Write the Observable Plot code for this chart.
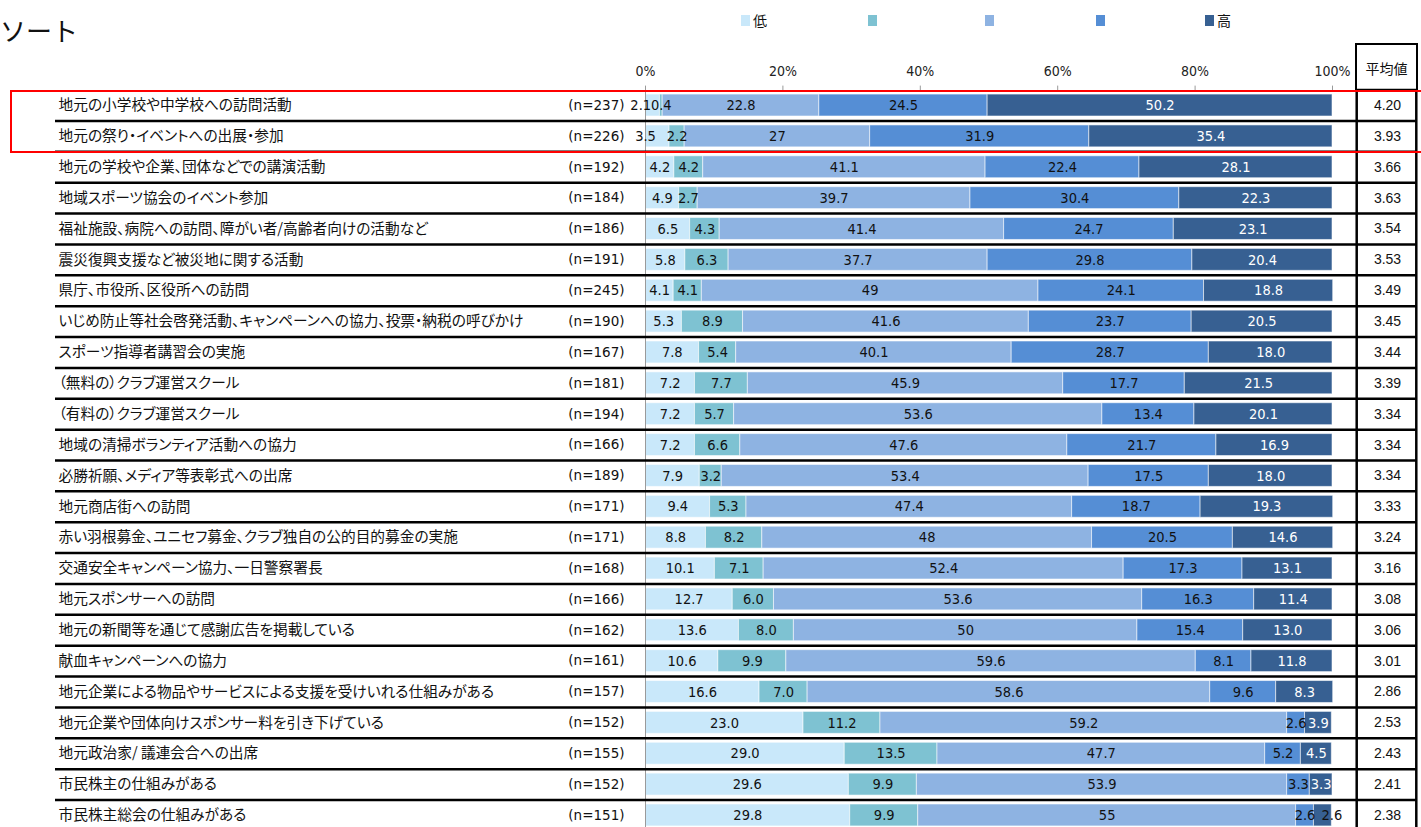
<!DOCTYPE html>
<html><head><meta charset="utf-8">
<script src="https://cdn.jsdelivr.net/npm/d3@7"></script>
<script src="https://cdn.jsdelivr.net/npm/@observablehq/plot@0.6"></script>
<style>
html,body{margin:0;padding:0;background:#fff;}
#wrap{position:relative;width:1421px;height:827px;overflow:hidden;background:#fff;}
#chart{position:absolute;left:0;top:0;}
#chart svg text{font-feature-settings:"palt";}
.ov{position:absolute;pointer-events:none;}
#title{left:0px;top:15px;font:26px "Noto Sans CJK JP",sans-serif;color:#111;line-height:30px;}
#legend{left:741px;top:11px;display:flex;font:14px "Noto Sans CJK JP",sans-serif;color:#111;line-height:18px;}
#legend .it{display:flex;align-items:center;}
#legend .sw{width:9px;height:11px;margin-right:3px;}
#hdr{left:1355px;top:43px;width:59px;height:47px;border:2.5px solid #000;border-bottom:none;font:14px "Noto Sans CJK JP",sans-serif;color:#111;text-align:center;line-height:46px;}
#redbox{left:10px;top:90px;width:1430px;height:59px;border:2.5px solid #ff0000;}
</style></head><body>
<div id="wrap">
 <div id="chart"></div>
 <div id="title" class="ov">ソート</div>
 <div id="legend" class="ov"></div>
 <div id="hdr" class="ov">平均値</div>
 <div id="redbox" class="ov"></div>
</div>
<script>
// ---------- data ----------
const items = [
  "地元の小学校や中学校への訪問活動",
  "地元の祭り・イベントへの出展・参加",
  "地元の学校や企業、団体などでの講演活動",
  "地域スポーツ協会のイベント参加",
  "福祉施設、病院への訪問、障がい者/高齢者向けの活動など",
  "震災復興支援など被災地に関する活動",
  "県庁、市役所、区役所への訪問",
  "いじめ防止等社会啓発活動、キャンペーンへの協力、投票・納税の呼びかけ",
  "スポーツ指導者講習会の実施",
  "（無料の）クラブ運営スクール",
  "（有料の）クラブ運営スクール",
  "地域の清掃ボランティア活動への協力",
  "必勝祈願、メディア等表彰式への出席",
  "地元商店街への訪問",
  "赤い羽根募金、ユニセフ募金、クラブ独自の公的目的募金の実施",
  "交通安全キャンペーン協力、一日警察署長",
  "地元スポンサーへの訪問",
  "地元の新聞等を通じて感謝広告を掲載している",
  "献血キャンペーンへの協力",
  "地元企業による物品やサービスによる支援を受けいれる仕組みがある",
  "地元企業や団体向けスポンサー料を引き下げている",
  "地元政治家/ 議連会合への出席",
  "市民株主の仕組みがある",
  "市民株主総会の仕組みがある"
];
const nCounts = [237,226,192,184,186,191,245,190,167,181,194,166,189,171,171,168,166,162,161,157,152,155,152,151];
const level1 = ["2.1","3.5","4.2","4.9","6.5","5.8","4.1","5.3","7.8","7.2","7.2","7.2","7.9","9.4","8.8","10.1","12.7","13.6","10.6","16.6","23.0","29.0","29.6","29.8"];
const level2 = ["0.4","2.2","4.2","2.7","4.3","6.3","4.1","8.9","5.4","7.7","5.7","6.6","3.2","5.3","8.2","7.1","6.0","8.0","9.9","7.0","11.2","13.5","9.9","9.9"];
const level3 = ["22.8","27","41.1","39.7","41.4","37.7","49","41.6","40.1","45.9","53.6","47.6","53.4","47.4","48","52.4","53.6","50","59.6","58.6","59.2","47.7","53.9","55"];
const level4 = ["24.5","31.9","22.4","30.4","24.7","29.8","24.1","23.7","28.7","17.7","13.4","21.7","17.5","18.7","20.5","17.3","16.3","15.4","8.1","9.6","2.6","5.2","3.3","2.6"];
const level5 = ["50.2","35.4","28.1","22.3","23.1","20.4","18.8","20.5","18.0","21.5","20.1","16.9","18.0","19.3","14.6","13.1","11.4","13.0","11.8","8.3","3.9","4.5","3.3","2.6"];
const means = ["4.20","3.93","3.66","3.63","3.54","3.53","3.49","3.45","3.44","3.39","3.34","3.34","3.34","3.33","3.24","3.16","3.08","3.06","3.01","2.86","2.53","2.43","2.41","2.38"];
const levelNames = ["低", "", "", "", "高"];
const xTicks = [0, 20, 40, 60, 80, 100];

// ---------- style / layout ----------
const palette = ["#C9E8FA", "#7EC2D2", "#8EB3E2", "#558ED5", "#376092"];
const legendItemWidths = [127, 117, 111, 109, 40];
const W = 1421, H = 827;
const X0 = 645, X1 = 1332;      // 0% and 100%
const Y0 = 89.6, Y1 = 830.4;    // row band extent
const step = (Y1 - Y0) / items.length;
const px = p => (p - X0) / (X1 - X0) * 100; // pixel -> x data units
const cjk = "'Noto Sans CJK JP', sans-serif";
const narrow = "'Liberation Sans Narrow', 'DejaVu Sans Condensed', sans-serif";

const series = [level1, level2, level3, level4, level5];
const rows = [];
items.forEach((item, i) => {
  let acc = 0;
  series.forEach((s, k) => {
    const v = +s[i];
    rows.push({item, level: levelNames[k] || ("L" + (k + 1)), k, value: v, label: s[i], x1: acc, x2: acc + v});
    acc += v;
  });
});
const colorDomain = levelNames.map((d, k) => d || ("L" + (k + 1)));
// narrow end segments: labels nudged outward (as the spreadsheet did)
const nudge = d => (d.k === 0 && d.value < 4) ? -12 : (d.k === 4 && d.value < 3) ? 9 : 0;
const darkText = d => d.k < 4 || (d.k === 4 && d.value < 3);

// legend (HTML)
const lg = document.getElementById("legend");
colorDomain.forEach((d, k) => {
  const it = document.createElement("div"); it.className = "it"; it.style.width = legendItemWidths[k] + "px";
  const sw = document.createElement("span"); sw.className = "sw"; sw.style.background = palette[k];
  const tx = document.createElement("span"); tx.textContent = levelNames[k];
  it.appendChild(sw); it.appendChild(tx); lg.appendChild(it);
});

const labelMark = (data, fill) => Plot.text(data, {
  x: d => (d.x1 + d.x2) / 2 + px(X0 + nudge(d)), y: "item", text: "label",
  fontFamily: narrow, fontSize: 14.5, fill
});

const chart = Plot.plot({
  width: W, height: H,
  marginLeft: X0, marginRight: W - X1, marginTop: Y0, marginBottom: 0,
  style: {background: "transparent", overflow: "visible"},
  x: {domain: [0, 100], range: [X0, X1], axis: null},
  y: {domain: items, range: [Y0, Y1], paddingInner: 0.29, paddingOuter: 0.145, align: 0.5, round: false, axis: null},
  color: {domain: colorDomain, range: palette},
  marks: [
    Plot.barX(rows, {x1: "x1", x2: "x2", y: "item", fill: "level", stroke: "#ffffff", strokeOpacity: 0.55, strokeWidth: 1}),
    Plot.ruleX([0], {stroke: "#9a9a9a", strokeWidth: 1}),
    Plot.ruleY(items.slice(0, -1), {y: d => d, dy: step / 2, x1: px(55), x2: px(1417), stroke: "#000", strokeWidth: 2.5}),
    Plot.ruleY(items.slice(0, 1), {y: d => d, dy: -step / 2, x1: px(1356), x2: px(1417), stroke: "#000", strokeWidth: 2.5}),
    Plot.ruleX([px(1356.2), px(1415.8)], {stroke: "#000", strokeWidth: 2.5}),
    Plot.axisX({anchor: "top", ticks: xTicks, tickFormat: d => d + "%", tickSize: 5, tickPadding: 9,
      stroke: "#9a9a9a", color: "#222", fontSize: 14, fontFamily: narrow}),
    Plot.text(items, {y: d => d, text: d => d, frameAnchor: "left", dx: 58 - X0, textAnchor: "start",
      fontFamily: cjk, fontSize: 14.7, fill: "#111"}),
    Plot.text(items, {y: d => d, x: () => 0, text: (d, i) => `(n=${nCounts[i]})`, dx: -21, textAnchor: "end",
      fontFamily: "'DejaVu Sans', sans-serif", fontSize: 13.5, fill: "#111"}),
    labelMark(rows.filter(darkText), "#111"),
    labelMark(rows.filter(d => !darkText(d)), "#ffffff"),
    Plot.text(items, {y: d => d, text: (d, i) => means[i], frameAnchor: "right", dx: 1387 - X1, textAnchor: "middle",
      fontFamily: "'Liberation Sans', Arial, sans-serif", fontSize: 14, fill: "#111"})
  ]
});
document.getElementById("chart").appendChild(chart);
</script>
</body></html>
